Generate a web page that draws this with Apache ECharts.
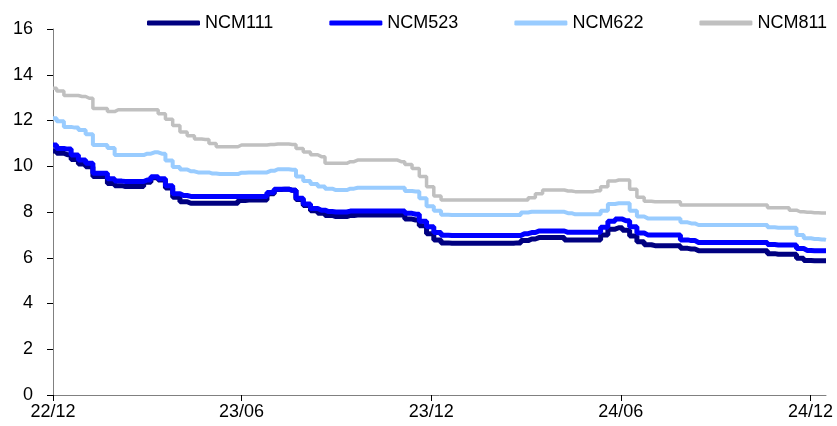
<!DOCTYPE html>
<html>
<head>
<meta charset="utf-8">
<script src="https://cdn.jsdelivr.net/npm/echarts@6/dist/echarts.min.js"></script>
<style>
html,body{margin:0;padding:0;background:#fff;}
#chart{width:837px;height:426px;}
</style>
</head>
<body>
<div id="chart"></div>
<script>
// Weekly dates (plus final end date)
const dates = [
'2022-12-01','2022-12-08','2022-12-15','2022-12-22','2022-12-29',
'2023-01-05','2023-01-12','2023-01-19','2023-01-26',
'2023-02-02','2023-02-09','2023-02-16','2023-02-23',
'2023-03-02','2023-03-09','2023-03-16','2023-03-23','2023-03-30',
'2023-04-06','2023-04-13','2023-04-20','2023-04-27',
'2023-05-04','2023-05-11','2023-05-18','2023-05-25',
'2023-06-01','2023-06-08','2023-06-15','2023-06-22','2023-06-29',
'2023-07-06','2023-07-13','2023-07-20','2023-07-27',
'2023-08-03','2023-08-10','2023-08-17','2023-08-24','2023-08-31',
'2023-09-07','2023-09-14','2023-09-21','2023-09-28',
'2023-10-05','2023-10-12','2023-10-19','2023-10-26',
'2023-11-02','2023-11-09','2023-11-16','2023-11-23','2023-11-30',
'2023-12-07','2023-12-14','2023-12-21','2023-12-28',
'2024-01-04','2024-01-11','2024-01-18','2024-01-25',
'2024-02-01','2024-02-08','2024-02-15','2024-02-22','2024-02-29',
'2024-03-07','2024-03-14','2024-03-21','2024-03-28',
'2024-04-04','2024-04-11','2024-04-18','2024-04-25',
'2024-05-02','2024-05-09','2024-05-16','2024-05-23','2024-05-30',
'2024-06-06','2024-06-13','2024-06-20','2024-06-27',
'2024-07-04','2024-07-11','2024-07-18','2024-07-25',
'2024-08-01','2024-08-08','2024-08-15','2024-08-22','2024-08-29',
'2024-09-05','2024-09-12','2024-09-19','2024-09-26',
'2024-10-03','2024-10-10','2024-10-17','2024-10-24','2024-10-31',
'2024-11-07','2024-11-14','2024-11-21','2024-11-28',
'2024-12-05','2024-12-12','2024-12-16'
];

const ncm111 = [
10.67,10.57,10.50,10.30,10.10,
9.98,9.55,9.55,9.25,
9.15,9.11,9.11,9.11,
9.30,9.50,9.40,9.05,8.65,
8.45,8.38,8.38,8.38,
8.38,8.38,8.38,8.38,
8.50,8.52,8.52,8.52,8.80,
8.98,9.00,8.95,8.55,
8.28,8.05,7.95,7.85,7.80,
7.80,7.85,7.87,7.87,
7.87,7.87,7.87,7.87,
7.87,7.69,7.65,7.40,7.05,
6.78,6.65,6.63,6.63,
6.63,6.63,6.63,6.63,
6.63,6.63,6.63,6.65,6.75,
6.82,6.88,6.88,6.88,
6.88,6.78,6.78,6.78,
6.78,6.78,7.00,7.25,7.31,
7.20,6.95,6.70,6.57,
6.53,6.53,6.53,6.53,
6.41,6.38,6.31,6.31,6.31,
6.31,6.31,6.31,6.31,
6.31,6.31,6.31,6.18,6.15,
6.15,6.15,5.98,5.88,
5.87,5.87,5.87
];

const ncm523 = [
10.93,10.78,10.75,10.49,10.27,
10.13,9.69,9.69,9.45,
9.35,9.33,9.33,9.33,
9.40,9.54,9.45,9.15,8.80,
8.72,8.68,8.68,8.68,
8.68,8.68,8.68,8.68,
8.68,8.68,8.68,8.68,8.85,
9.00,9.00,8.95,8.60,
8.35,8.15,8.08,8.02,8.00,
8.00,8.04,8.04,8.04,
8.04,8.04,8.04,8.04,
8.04,7.94,7.90,7.60,7.35,
7.10,6.98,6.97,6.97,
6.97,6.97,6.97,6.97,
6.97,6.97,6.97,6.97,7.05,
7.10,7.17,7.17,7.17,
7.17,7.11,7.11,7.11,
7.11,7.11,7.33,7.60,7.69,
7.62,7.35,7.08,7.00,
6.99,6.99,6.99,6.99,
6.78,6.75,6.67,6.67,6.67,
6.67,6.67,6.67,6.67,
6.67,6.67,6.67,6.58,6.56,
6.56,6.56,6.40,6.32,
6.31,6.31,6.31
];

const ncm622 = [
12.10,11.97,11.72,11.69,11.58,
11.40,10.93,10.93,10.80,
10.49,10.49,10.49,10.49,
10.55,10.61,10.55,10.25,9.97,
9.86,9.78,9.73,9.73,
9.68,9.66,9.66,9.66,
9.72,9.73,9.73,9.73,9.80,
9.87,9.87,9.85,9.55,
9.36,9.22,9.11,9.02,8.96,
8.96,9.02,9.06,9.06,
9.06,9.06,9.06,9.06,
9.06,8.92,8.90,8.60,8.25,
8.05,7.88,7.87,7.87,
7.87,7.87,7.87,7.87,
7.87,7.87,7.87,7.87,7.98,
8.01,8.01,8.01,8.01,
8.01,7.95,7.90,7.90,
7.90,7.90,8.05,8.35,8.38,
8.38,8.05,7.80,7.72,
7.72,7.72,7.72,7.72,
7.55,7.50,7.43,7.43,7.43,
7.43,7.43,7.43,7.43,
7.43,7.43,7.43,7.33,7.31,
7.31,7.31,7.00,6.85,
6.82,6.80,6.78,6.78
];

const ncm811 = [
13.41,13.29,13.09,13.09,13.05,
12.97,12.53,12.53,12.39,
12.47,12.47,12.47,12.47,
12.47,12.47,12.30,12.05,11.78,
11.50,11.33,11.19,11.17,
11.00,10.85,10.85,10.85,
10.93,10.93,10.93,10.93,10.95,
10.97,10.97,10.95,10.78,
10.62,10.50,10.42,10.13,10.13,
10.13,10.20,10.27,10.27,
10.27,10.27,10.27,10.27,
10.20,10.08,9.90,9.55,9.10,
8.70,8.52,8.52,8.52,
8.52,8.52,8.52,8.52,
8.52,8.52,8.52,8.52,8.52,
8.62,8.80,8.96,8.96,
8.96,8.92,8.89,8.89,
8.89,8.93,9.10,9.35,9.40,
9.40,9.00,8.65,8.47,
8.45,8.45,8.45,8.45,
8.31,8.31,8.31,8.31,8.31,
8.31,8.31,8.31,8.31,
8.31,8.31,8.31,8.19,8.19,
8.19,8.08,8.01,7.99,
7.97,7.96,7.96
];

const tickDates = ['2022-12-01','2023-06-01','2023-12-01','2024-06-01','2024-12-01'];
const tickLabels = ['22/12','23/06','23/12','24/06','24/12'];

// x positions are day offsets from the first date
const DAY = 86400000;
function toDay(s){
  const p = s.split('-').map(Number);
  return Math.round((Date.UTC(p[0], p[1]-1, p[2]) - Date.UTC(2022, 11, 1)) / DAY);
}
const xs = dates.map(toDay);
const tickXs = tickDates.map(toDay);
function pairs(vals){ return vals.map((v,i)=>[xs[i], v]); }

const FONT = '"Liberation Sans", Arial, sans-serif';
const names = ['NCM111','NCM523','NCM622','NCM811'];
const colors = ['#000080','#0000FF','#99CCFF','#C0C0C0'];
const widths = [5,5,4,3.5];
const all = [ncm111, ncm523, ncm622, ncm811];

const chart = echarts.init(document.getElementById('chart'), null, {renderer:'canvas'});
chart.setOption({
  animation:false,
  backgroundColor:'#ffffff',
  legend:{
    top:9, left:142,
    itemWidth:53, itemHeight:5, itemGap:56,
    icon:'roundRect',
    textStyle:{fontFamily:FONT, fontSize:18, color:'#000'},
    data:names
  },
  grid:{left:53, right:11, top:29, bottom:31, containLabel:false},
  xAxis:{
    type:'value',
    min:xs[0], max:xs[xs.length-1],
    axisLine:{show:true, lineStyle:{color:'#808080', width:1}},
    axisTick:{show:true, length:6, lineStyle:{color:'#000'}, customValues:tickXs},
    axisLabel:{
      customValues:tickXs,
      fontFamily:FONT, fontSize:18, color:'#000', margin:8,
      formatter:function(v){
        const idx = tickXs.indexOf(v);
        return idx>=0 ? tickLabels[idx] : '';
      }
    },
    splitLine:{show:false}
  },
  yAxis:{
    type:'value', min:0, max:16, interval:2,
    axisLine:{show:true, lineStyle:{color:'#808080', width:1}},
    axisTick:{show:true, length:6, lineStyle:{color:'#000'}},
    axisLabel:{fontFamily:FONT, fontSize:18, color:'#000', margin:20},
    splitLine:{show:false}
  },
  series: names.map((n,k)=>({
    name:n, type:'line', step:'middle', showSymbol:false, symbol:'none',
    data:pairs(all[k]),
    lineStyle:{color:colors[k], width:widths[k]},
    itemStyle:{color:colors[k]}
  }))
});
</script>
</body>
</html>
